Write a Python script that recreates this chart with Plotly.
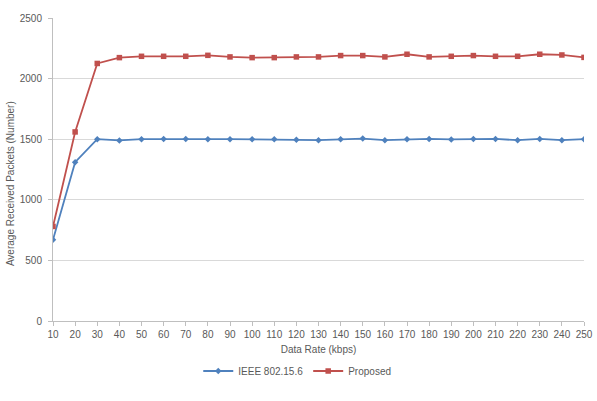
import plotly.graph_objects as go

data_rate = [10, 20, 30, 40, 50, 60, 70, 80, 90, 100, 110, 120, 130, 140, 150,
             160, 170, 180, 190, 200, 210, 220, 230, 240, 250]
ieee = [670, 1310, 1500, 1490, 1500, 1502, 1502, 1500, 1500, 1500, 1500, 1495, 1492,
        1500, 1505, 1492, 1500, 1502, 1498, 1502, 1502, 1492, 1502, 1492, 1500]
proposed = [780, 1560, 2125, 2173, 2184, 2184, 2184, 2192, 2179, 2173, 2173, 2179,
            2179, 2190, 2190, 2179, 2201, 2179, 2184, 2190, 2184, 2184, 2201, 2195, 2175]
y_ticks = [0, 500, 1000, 1500, 2000, 2500]

font_family = "Liberation Sans, Arial, sans-serif"
gray_text = "#595959"

fig = go.Figure()
fig.add_trace(go.Scatter(
    x=data_rate, y=ieee, name="IEEE 802.15.6", mode="lines+markers",
    line=dict(color="#4F81BD", width=1.8),
    marker=dict(symbol="diamond", size=5, color="#4F81BD"),
))
fig.add_trace(go.Scatter(
    x=data_rate, y=proposed, name="Proposed", mode="lines+markers",
    line=dict(color="#C0504D", width=1.8),
    marker=dict(symbol="square", size=5.5, color="#C0504D"),
))

fig.update_layout(
    width=597, height=401,
    margin=dict(l=53, r=13, t=18, b=80, autoexpand=False),
    paper_bgcolor="white", plot_bgcolor="white",
    font=dict(family=font_family, size=10, color=gray_text),
    showlegend=True,
    legend=dict(orientation="h", x=0.46, xanchor="center", y=-0.165, yanchor="middle",
                font=dict(size=10, color=gray_text)),
    xaxis=dict(
        range=[10, 250], tickmode="array", tickvals=data_rate,
        ticktext=[str(v) for v in data_rate],
        showgrid=False, zeroline=False, automargin=False,
        showline=True, linecolor="#BFBFBF", linewidth=1,
        ticks="outside", ticklen=4, tickcolor="#BFBFBF",
        tickfont=dict(size=10, color=gray_text),
        title=dict(text="Data Rate (kbps)", font=dict(size=10, color=gray_text), standoff=6),
    ),
    yaxis=dict(
        range=[0, 2500], tickmode="array", tickvals=y_ticks,
        showgrid=True, gridcolor="#D9D9D9", gridwidth=1, zeroline=False, automargin=False,
        showline=True, linecolor="#BFBFBF", linewidth=1,
        ticks="outside", ticklen=4, tickcolor="#BFBFBF",
        tickfont=dict(size=10, color=gray_text), ticklabelstandoff=4,
    ),
    annotations=[dict(
        text="Average Received Packets (Number)", textangle=-90,
        xref="paper", yref="paper", x=-0.081, y=0.455,
        xanchor="center", yanchor="middle", showarrow=False,
        font=dict(size=10, color=gray_text),
    )],
)

fig.write_html("out.html")
